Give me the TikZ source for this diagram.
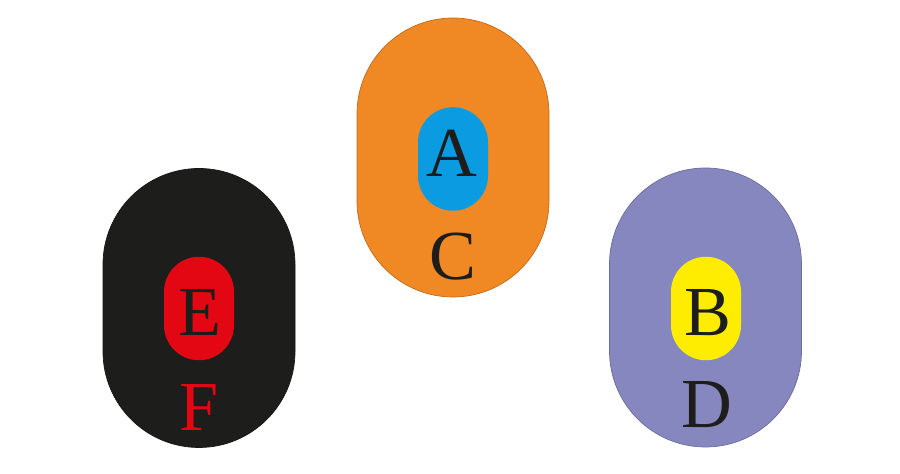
\documentclass[tikz,border=0pt]{standalone}
\usepackage{fontspec}
\setmainfont{Liberation Serif}
\usepackage{tikz}
\usepackage[dvipsnames]{xcolor}
\definecolor{cOrange}{RGB}{240,136,36}
\definecolor{cBlue}{RGB}{10,155,224}
\definecolor{cBlack}{RGB}{29,29,27}
\definecolor{cRed}{RGB}{227,6,19}
\definecolor{cPurple}{RGB}{135,135,191}
\definecolor{cYellow}{RGB}{255,237,0}

\begin{document}
\begin{tikzpicture}[
    outer/.style={rectangle,rounded corners=1.92cm,minimum width=3.84cm,minimum height=5.58cm,inner sep=0pt,draw=#1!80!black,fill=#1,line width=0.4pt},
    inner/.style={rectangle,rounded corners=0.7cm,minimum width=1.4cm,minimum height=2.07cm,inner sep=0pt,fill=#1},
    letter/.style={inner sep=0pt,font=\fontsize{40}{40}\selectfont,text=#1}]
                \useasboundingbox (0,0) rectangle (18,9.48);
                \node[outer=cOrange] (ring C) at (9.06,6.33) {};
                \node[inner=cBlue] (ring A) at (9.06,6.30) {};
                \node[letter=cBlack] (A) at (9.04,6.41) {A};
                \node[letter=cBlack] (C) at (9.06,4.35) {C};
                \node[outer=cBlack] (ring F) at (3.98,3.32) {};
                \node[inner=cRed] (ring E) at (3.98,3.31) {};
                \node[letter=cBlack] (E) at (4.0,3.24) {E};
                \node[letter=cRed] (F) at (3.98,1.34) {F};
                \node[outer=cPurple] (ring D) at (14.11,3.33) {};
                \node[inner=cYellow] (ring B) at (14.12,3.31) {};
                \node[letter=cBlack] (B) at (14.16,3.23) {B};
                \node[letter=cBlack] (D) at (14.14,1.38) {D};
            \end{tikzpicture}
\end{document}
